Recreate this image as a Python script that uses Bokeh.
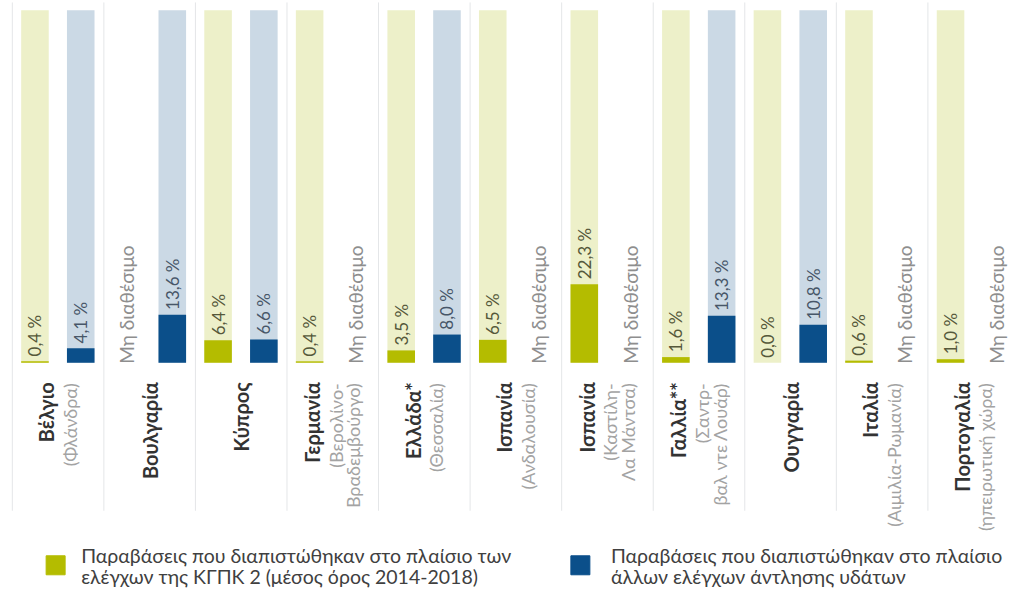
import math
from bokeh.plotting import figure
from bokeh.models import Range1d, ColumnDataSource
from bokeh.core.properties import value
from bokeh.embed import file_html
from bokeh.resources import INLINE

# ---------------- data ----------------
countries = ["Βέλγιο", "Βουλγαρία", "Κύπρος", "Γερμανία", "Ελλάδα*", "Ισπανία",
             "Ισπανία", "Γαλλία**", "Ουγγαρία", "Ιταλία", "Πορτογαλία"]
regions = [["(Φλάνδρα)"], [], [], ["(Βερολίνο-", "Βραδεμβούργο)"], ["(Θεσσαλία)"],
           ["(Ανδαλουσία)"], ["(Καστίλη-", "Λα Μάντσα)"], ["(Σαντρ-", "βαλ ντε Λουάρ)"],
           [], ["(Αιμιλία-Ρωμανία)"], ["(ηπειρωτική χώρα)"]]
cap_checks = [0.4, None, 6.4, 0.4, 3.5, 6.5, 22.3, 1.6, 0.0, 0.6, 1.0]
other_checks = [4.1, 13.6, 6.6, None, 8.0, None, None, 13.3, 10.8, None, None]
not_available = "Μη διαθέσιμο"
legend_cap = ["Παραβάσεις που διαπιστώθηκαν στο πλαίσιο των",
              "ελέγχων της ΚΓΠΚ 2 (μέσος όρος 2014-2018)"]
legend_other = ["Παραβάσεις που διαπιστώθηκαν στο πλαίσιο",
                "άλλων ελέγχων άντλησης υδάτων"]

# ---------------- style / layout ----------------
W, H = 1016, 594
REF_W, REF_H = 1032, 610
UX = 93.0      # ref px per group
PX = 3.62      # ref px per percent
X0_REF = 12    # ref px of first separator
Y0_REF = 372   # ref px of 0 %
FONT = "Lato"

C_CAP = "#b4bc00"
C_CAP_BG = "#edf0c9"
C_OTH = "#0b4f8a"
C_OTH_BG = "#cbd9e5"
C_SEP = "#e4e6e8"

OFF_CAP = (9 + 14) / UX
OFF_OTH = (9 + 46.5 + 14) / UX
BW = 28 / UX


def gx(ref_x):
    return (ref_x - X0_REF) / UX


def gy(ref_y):
    return (Y0_REF - ref_y) / PX


def fmt(v):
    return ("%.1f %%" % v).replace(".", ",")


p = figure(width=W, height=H, output_backend="svg", toolbar_location=None,
           x_range=Range1d(gx(0), gx(REF_W)), y_range=Range1d(gy(REF_H), gy(0)),
           min_border=0)
p.axis.visible = False
p.grid.visible = False
p.outline_line_color = None
p.background_fill_color = "white"

n = len(countries)

# separators
edges = list(range(n + 1))
p.segment(x0=edges, x1=edges, y0=[gy(2)] * len(edges), y1=[gy(524)] * len(edges),
          line_color=C_SEP, line_width=1)

# series
for vals, off, col, bg, lab_col in [(cap_checks, OFF_CAP, C_CAP, C_CAP_BG, "#55583a"),
                                    (other_checks, OFF_OTH, C_OTH, C_OTH_BG, "#475668")]:
    xs = [i + off for i, v in enumerate(vals) if v is not None]
    vs = [v for v in vals if v is not None]
    na = [i + off for i, v in enumerate(vals) if v is None]
    src = ColumnDataSource(dict(x=xs, v=vs, full=[100] * len(xs),
                                ly=[v + 5 / PX for v in vs], lab=[fmt(v) for v in vs]))
    p.vbar(x="x", top="full", bottom=0, width=BW, source=src, fill_color=bg, line_color=None)
    p.vbar(x="x", top="v", bottom=0, width=BW, source=src, fill_color=col, line_color=None)
    p.text(x="x", y="ly", text="lab", source=src, angle=math.pi / 2,
           text_align="left", text_baseline="middle", text_font=value(FONT),
           text_font_size="17px", text_color=lab_col)
    p.text(x=na, y=[gy(373)] * len(na), text=[not_available] * len(na), angle=math.pi / 2,
           text_align="left", text_baseline="middle", text_font=value(FONT),
           text_font_size="19px", text_color="#8e8e8e")

# country labels
name_x, name_t, sub_x, sub_t = [], [], [], []
for i, (c, subs) in enumerate(zip(countries, regions)):
    gaps = [0]
    for k in range(len(subs)):
        gaps.append(gaps[-1] + (24 if k == 0 else 18))
    shift = gaps[-1] / 2
    cx = i + 0.5
    name_x.append(cx + (gaps[0] - shift) / UX)
    name_t.append(c)
    for k, s in enumerate(subs):
        sub_x.append(cx + (gaps[k + 1] - shift) / UX)
        sub_t.append(s)
p.text(x=name_x, y=[gy(392)] * len(name_x), text=name_t, angle=math.pi / 2,
       text_align="right", text_baseline="middle", text_font=value(FONT),
       text_font_style="bold", text_font_size="20px", text_color="#333333")
p.text(x=sub_x, y=[gy(393)] * len(sub_x), text=sub_t, angle=math.pi / 2,
       text_align="right", text_baseline="middle", text_font=value(FONT),
       text_font_size="18px", text_color="#a3a3a3")

# legend
for sq_x, tx, col, lines in [(56, 82, C_CAP, legend_cap), (589, 620, C_OTH, legend_other)]:
    p.scatter(x=[gx(sq_x)], y=[gy(580)], marker="square", size=19,
              fill_color=col, line_color=col, line_width=1)
    p.text(x=[gx(tx)] * 2, y=[gy(570), gy(592)], text=lines,
           text_align="left", text_baseline="middle", text_font=value(FONT),
           text_font_size="19.5px", text_color="#404040")

open("out.html", "w").write(file_html(p, INLINE))
